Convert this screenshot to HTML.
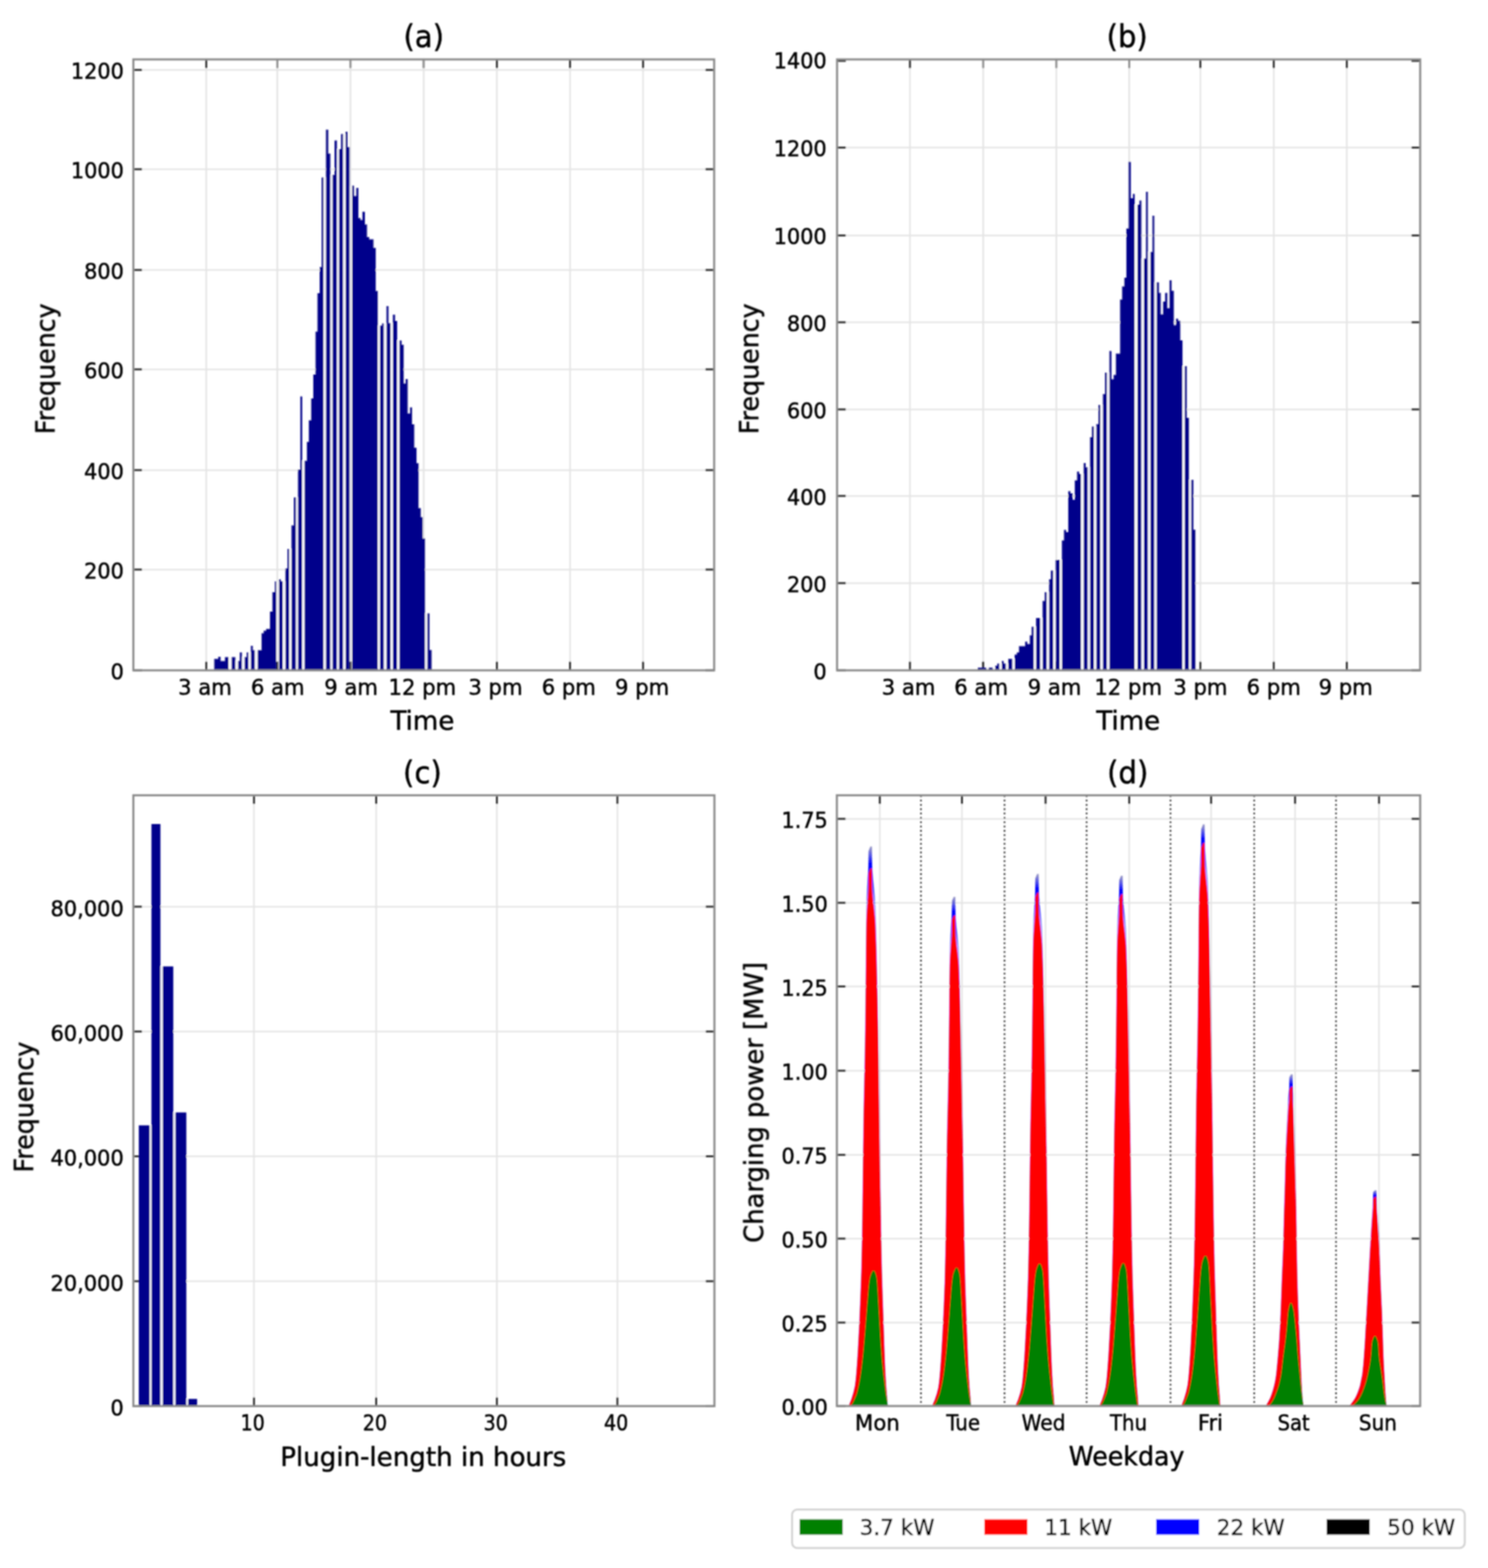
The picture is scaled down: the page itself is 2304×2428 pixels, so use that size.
<!DOCTYPE html>
<html lang="en">
<head>
<meta charset="utf-8">
<title>Charging statistics</title>
<style>
html,body{margin:0;padding:0;background:#ffffff;}
body{width:2304px;height:2428px;overflow:hidden;}
svg{display:block;font-family:"DejaVu Sans", "Liberation Sans", sans-serif;}
svg text{fill:#000000;stroke:#000000;stroke-width:0.7px;stroke-linejoin:round;}
</style>
</head>
<body>
<svg width="2304" height="2428" viewBox="0 0 2304 2428">
<defs><filter id="soft" x="0" y="0" width="2304" height="2428" filterUnits="userSpaceOnUse"><feGaussianBlur stdDeviation="1.2"/></filter></defs>
<rect x="0" y="0" width="2304" height="2428" fill="#ffffff"/>
<g filter="url(#soft)">
<g>
<rect x="318.1" y="92.0" width="2.5" height="946.0" fill="#e5e5e5"/>
<rect x="428.1" y="92.0" width="2.5" height="946.0" fill="#e5e5e5"/>
<rect x="541.5" y="92.0" width="2.5" height="946.0" fill="#e5e5e5"/>
<rect x="654.8" y="92.0" width="2.5" height="946.0" fill="#e5e5e5"/>
<rect x="768.1" y="92.0" width="2.5" height="946.0" fill="#e5e5e5"/>
<rect x="881.5" y="92.0" width="2.5" height="946.0" fill="#e5e5e5"/>
<rect x="994.5" y="92.0" width="2.5" height="946.0" fill="#e5e5e5"/>
<rect x="206.5" y="880.8" width="899.3" height="2.5" fill="#e5e5e5"/>
<rect x="206.5" y="726.8" width="899.3" height="2.5" fill="#e5e5e5"/>
<rect x="206.5" y="570.8" width="899.3" height="2.5" fill="#e5e5e5"/>
<rect x="206.5" y="416.8" width="899.3" height="2.5" fill="#e5e5e5"/>
<rect x="206.5" y="260.8" width="899.3" height="2.5" fill="#e5e5e5"/>
<rect x="206.5" y="107.0" width="899.3" height="2.5" fill="#e5e5e5"/>
<rect x="317.9" y="1024.5" width="2.9" height="13.5" fill="#262626"/>
<rect x="317.9" y="92.0" width="2.9" height="13.5" fill="#262626"/>
<rect x="427.9" y="1024.5" width="2.9" height="13.5" fill="#262626"/>
<rect x="427.9" y="92.0" width="2.9" height="13.5" fill="#262626"/>
<rect x="541.3" y="1024.5" width="2.9" height="13.5" fill="#262626"/>
<rect x="541.3" y="92.0" width="2.9" height="13.5" fill="#262626"/>
<rect x="654.5" y="1024.5" width="2.9" height="13.5" fill="#262626"/>
<rect x="654.5" y="92.0" width="2.9" height="13.5" fill="#262626"/>
<rect x="767.9" y="1024.5" width="2.9" height="13.5" fill="#262626"/>
<rect x="767.9" y="92.0" width="2.9" height="13.5" fill="#262626"/>
<rect x="881.2" y="1024.5" width="2.9" height="13.5" fill="#262626"/>
<rect x="881.2" y="92.0" width="2.9" height="13.5" fill="#262626"/>
<rect x="994.3" y="1024.5" width="2.9" height="13.5" fill="#262626"/>
<rect x="994.3" y="92.0" width="2.9" height="13.5" fill="#262626"/>
<rect x="206.5" y="1036.5" width="13.5" height="2.9" fill="#262626"/>
<rect x="1092.3" y="1036.5" width="13.5" height="2.9" fill="#262626"/>
<rect x="206.5" y="880.5" width="13.5" height="2.9" fill="#262626"/>
<rect x="1092.3" y="880.5" width="13.5" height="2.9" fill="#262626"/>
<rect x="206.5" y="726.5" width="13.5" height="2.9" fill="#262626"/>
<rect x="1092.3" y="726.5" width="13.5" height="2.9" fill="#262626"/>
<rect x="206.5" y="570.5" width="13.5" height="2.9" fill="#262626"/>
<rect x="1092.3" y="570.5" width="13.5" height="2.9" fill="#262626"/>
<rect x="206.5" y="416.6" width="13.5" height="2.9" fill="#262626"/>
<rect x="1092.3" y="416.6" width="13.5" height="2.9" fill="#262626"/>
<rect x="206.5" y="260.6" width="13.5" height="2.9" fill="#262626"/>
<rect x="1092.3" y="260.6" width="13.5" height="2.9" fill="#262626"/>
<rect x="206.5" y="106.8" width="13.5" height="2.9" fill="#262626"/>
<rect x="1092.3" y="106.8" width="13.5" height="2.9" fill="#262626"/>
<path d="M331.5 1038.0 L331.5 1020.3 L337.8 1020.3 L337.8 1016.9 L341.6 1016.9 L341.6 1023.6 L348.3 1023.6 L348.3 1017.4 L354.1 1017.4 L354.1 1017.4 L358.4 1017.4 L358.4 1017.4 L364.6 1017.4 L364.6 1023.6 L368.5 1023.6 L368.5 1023.6 L371.3 1023.6 L371.3 1010.2 L374.7 1010.2 L374.7 1017.4 L378.5 1017.4 L378.5 1017.4 L381.9 1017.4 L381.9 1010.2 L384.8 1010.2 L384.8 1010.2 L388.3 1010.2 L388.3 1000.1 L391.5 1000.1 L391.5 1006.8 L394.7 1006.8 L394.7 1006.8 L398.7 1006.8 L398.7 1006.8 L404.9 1006.8 L404.9 980.4 L408.3 980.4 L408.3 976.6 L412.1 976.6 L412.1 973.7 L417.9 973.7 L417.9 946.9 L421.7 946.9 L421.7 917.1 L425.6 917.1 L425.6 900.3 L428.0 900.3 L428.0 900.3 L431.8 900.3 L431.8 896.9 L434.7 896.9 L434.7 900.3 L438.0 900.3 L438.0 900.3 L441.7 900.3 L441.7 880.2 L445.2 880.2 L445.2 849.9 L448.0 849.9 L448.0 849.9 L451.2 849.9 L451.2 813.4 L455.0 813.4 L455.0 770.2 L458.4 770.2 L458.4 770.2 L461.3 770.2 L461.3 727.0 L465.1 727.0 L465.1 613.7 L468.0 613.7 L468.0 713.6 L471.3 713.6 L471.3 713.6 L475.2 713.6 L475.2 684.3 L478.2 684.3 L478.2 650.7 L481.7 650.7 L481.7 617.1 L485.1 617.1 L485.1 580.1 L488.5 580.1 L488.5 513.4 L491.5 513.4 L491.5 453.9 L495.0 453.9 L495.0 413.6 L498.1 413.6 L498.1 274.7 L501.2 274.7 L501.2 274.7 L504.5 274.7 L504.5 200.8 L508.4 200.8 L508.4 237.7 L511.7 237.7 L511.7 270.8 L514.6 270.8 L514.6 270.8 L518.0 270.8 L518.0 217.6 L521.8 217.6 L521.8 231.0 L524.7 231.0 L524.7 231.0 L528.1 231.0 L528.1 207.5 L531.4 207.5 L531.4 207.5 L534.8 207.5 L534.8 204.1 L538.1 204.1 L538.1 227.7 L541.5 227.7 L541.5 287.6 L544.9 287.6 L544.9 287.6 L548.2 287.6 L548.2 303.5 L551.6 303.5 L551.6 291.0 L554.9 291.0 L554.9 337.4 L558.3 337.4 L558.3 340.6 L561.2 340.6 L561.2 327.8 L565.0 327.8 L565.0 347.4 L568.4 347.4 L568.4 367.0 L571.7 367.0 L571.7 370.4 L578.4 370.4 L578.4 383.8 L581.8 383.8 L581.8 450.5 L585.2 450.5 L585.2 504.2 L588.2 504.2 L588.2 504.2 L591.6 504.2 L591.6 500.8 L594.5 500.8 L594.5 500.8 L598.3 500.8 L598.3 474.0 L601.6 474.0 L601.6 500.5 L605.0 500.5 L605.0 500.5 L608.2 500.5 L608.2 487.3 L611.7 487.3 L611.7 497.0 L615.0 497.0 L615.0 527.2 L618.3 527.2 L618.3 527.2 L621.8 527.2 L621.8 533.7 L625.2 533.7 L625.2 593.7 L628.1 593.7 L628.1 587.0 L631.4 587.0 L631.4 640.3 L634.8 640.3 L634.8 630.7 L638.1 630.7 L638.1 656.9 L641.5 656.9 L641.5 693.2 L644.9 693.2 L644.9 717.2 L648.2 717.2 L648.2 786.8 L651.6 786.8 L651.6 800.7 L654.6 800.7 L654.6 833.7 L658.3 833.7 L658.3 949.7 L661.5 949.7 L661.5 949.7 L665.1 949.7 L665.1 1006.6 L668.5 1006.6 L668.5 1038.0Z" fill="#ffffff"/>
<rect x="428.1" y="92.0" width="2.5" height="946.0" fill="#e5e5e5" fill-opacity="0.6"/>
<rect x="427.9" y="1024.5" width="2.9" height="13.5" fill="#262626"/>
<rect x="541.5" y="92.0" width="2.5" height="946.0" fill="#e5e5e5" fill-opacity="0.6"/>
<rect x="541.3" y="1024.5" width="2.9" height="13.5" fill="#262626"/>
<rect x="654.8" y="92.0" width="2.5" height="946.0" fill="#e5e5e5" fill-opacity="0.6"/>
<rect x="654.5" y="1024.5" width="2.9" height="13.5" fill="#262626"/>
<path d="M331.6 1038.0 L331.6 1020.3 L337.8 1020.3 L337.8 1016.9 L341.6 1016.9 L341.6 1023.6 L348.3 1023.6 L348.3 1017.4 L354.0 1017.4 L354.0 1038.0Z M358.5 1038.0 L358.5 1017.4 L364.5 1017.4 L364.5 1038.0Z M368.6 1038.0 L368.6 1023.6 L371.3 1023.6 L371.3 1010.2 L374.6 1010.2 L374.6 1038.0Z M378.6 1038.0 L378.6 1017.4 L381.9 1017.4 L381.9 1010.2 L384.7 1010.2 L384.7 1038.0Z M388.4 1038.0 L388.4 1000.1 L391.5 1000.1 L391.5 1006.8 L394.6 1006.8 L394.6 1038.0Z M398.8 1038.0 L398.8 1006.8 L404.9 1006.8 L404.9 980.4 L408.3 980.4 L408.3 976.6 L412.1 976.6 L412.1 973.7 L417.9 973.7 L417.9 946.9 L421.7 946.9 L421.7 917.1 L425.6 917.1 L425.6 900.3 L427.9 900.3 L427.9 1038.0Z M431.9 1038.0 L431.9 896.9 L434.7 896.9 L434.7 900.3 L437.9 900.3 L437.9 1038.0Z M441.8 1038.0 L441.8 880.2 L445.2 880.2 L445.2 849.9 L447.9 849.9 L447.9 1038.0Z M451.3 1038.0 L451.3 813.4 L455.0 813.4 L455.0 770.2 L458.3 770.2 L458.3 1038.0Z M461.4 1038.0 L461.4 727.0 L465.1 727.0 L465.1 613.7 L467.9 613.7 L467.9 1038.0Z M471.4 1038.0 L471.4 713.6 L475.2 713.6 L475.2 684.3 L478.2 684.3 L478.2 650.7 L481.7 650.7 L481.7 617.1 L485.1 617.1 L485.1 580.1 L488.5 580.1 L488.5 513.4 L491.5 513.4 L491.5 453.9 L495.0 453.9 L495.0 413.6 L498.1 413.6 L498.1 274.7 L501.1 274.7 L501.1 1038.0Z M504.6 1038.0 L504.6 200.8 L508.4 200.8 L508.4 237.7 L511.6 237.7 L511.6 1038.0Z M514.7 1038.0 L514.7 270.8 L518.0 270.8 L518.0 217.6 L521.7 217.6 L521.7 1038.0Z M524.8 1038.0 L524.8 231.0 L528.1 231.0 L528.1 207.5 L531.3 207.5 L531.3 1038.0Z M534.9 1038.0 L534.9 204.1 L538.1 204.1 L538.1 227.7 L541.4 227.7 L541.4 1038.0Z M545.0 1038.0 L545.0 287.6 L548.2 287.6 L548.2 303.5 L551.6 303.5 L551.6 291.0 L554.9 291.0 L554.9 337.4 L558.3 337.4 L558.3 340.6 L561.2 340.6 L561.2 327.8 L565.0 327.8 L565.0 347.4 L568.4 347.4 L568.4 367.0 L571.7 367.0 L571.7 370.4 L578.4 370.4 L578.4 383.8 L581.8 383.8 L581.8 450.5 L585.1 450.5 L585.1 1038.0Z M588.3 1038.0 L588.3 504.2 L591.6 504.2 L591.6 500.8 L594.4 500.8 L594.4 1038.0Z M598.4 1038.0 L598.4 474.0 L601.6 474.0 L601.6 500.5 L604.9 500.5 L604.9 1038.0Z M608.3 1038.0 L608.3 487.3 L611.7 487.3 L611.7 497.0 L614.9 497.0 L614.9 1038.0Z M618.4 1038.0 L618.4 527.2 L621.8 527.2 L621.8 533.7 L625.2 533.7 L625.2 593.7 L628.1 593.7 L628.1 587.0 L631.4 587.0 L631.4 640.3 L634.8 640.3 L634.8 630.7 L638.1 630.7 L638.1 656.9 L641.5 656.9 L641.5 693.2 L644.9 693.2 L644.9 717.2 L648.2 717.2 L648.2 786.8 L651.6 786.8 L651.6 800.7 L654.6 800.7 L654.6 833.7 L658.2 833.7 L658.2 1038.0Z M661.6 1038.0 L661.6 949.7 L665.1 949.7 L665.1 1006.6 L668.4 1006.6 L668.4 1038.0Z" fill="#00008b"/>
<rect x="206.5" y="92.0" width="899.3" height="946.0" fill="none" stroke="#8a8a8a" stroke-width="3.2"/>
<text transform="translate(191.8 1051.6) scale(0.935 1)" font-size="34.5" text-anchor="end">0</text>
<text transform="translate(191.8 895.6) scale(0.935 1)" font-size="34.5" text-anchor="end">200</text>
<text transform="translate(191.8 741.6) scale(0.935 1)" font-size="34.5" text-anchor="end">400</text>
<text transform="translate(191.8 585.6) scale(0.935 1)" font-size="34.5" text-anchor="end">600</text>
<text transform="translate(191.8 431.6) scale(0.935 1)" font-size="34.5" text-anchor="end">800</text>
<text transform="translate(191.8 275.6) scale(0.935 1)" font-size="34.5" text-anchor="end">1000</text>
<text transform="translate(191.8 121.9) scale(0.935 1)" font-size="34.5" text-anchor="end">1200</text>
<text transform="translate(317.4 1075.5) scale(0.95 1)" font-size="34.5" text-anchor="middle">3 am</text>
<text transform="translate(430.1 1075.5) scale(0.95 1)" font-size="34.5" text-anchor="middle">6 am</text>
<text transform="translate(543.6 1075.5) scale(0.95 1)" font-size="34.5" text-anchor="middle">9 am</text>
<text transform="translate(654.0 1075.5) scale(0.95 1)" font-size="34.5" text-anchor="middle">12 pm</text>
<text transform="translate(767.1 1075.5) scale(0.95 1)" font-size="34.5" text-anchor="middle">3 pm</text>
<text transform="translate(880.7 1075.5) scale(0.95 1)" font-size="34.5" text-anchor="middle">6 pm</text>
<text transform="translate(994.3 1075.5) scale(0.95 1)" font-size="34.5" text-anchor="middle">9 pm</text>
<text transform="translate(656.1 73.0) scale(0.95 1)" font-size="47.5" text-anchor="middle">(a)</text>
<text transform="translate(654.1 1130.2) scale(0.985 1)" font-size="41" text-anchor="middle">Time</text>
<text transform="translate(84.6 571.0) rotate(-90) scale(0.956 1)" font-size="41" text-anchor="middle">Frequency</text>
</g>
<g>
<rect x="1407.7" y="92.0" width="2.5" height="946.0" fill="#e5e5e5"/>
<rect x="1521.0" y="92.0" width="2.5" height="946.0" fill="#e5e5e5"/>
<rect x="1634.5" y="92.0" width="2.5" height="946.0" fill="#e5e5e5"/>
<rect x="1747.2" y="92.0" width="2.5" height="946.0" fill="#e5e5e5"/>
<rect x="1857.5" y="92.0" width="2.5" height="946.0" fill="#e5e5e5"/>
<rect x="1971.0" y="92.0" width="2.5" height="946.0" fill="#e5e5e5"/>
<rect x="2084.1" y="92.0" width="2.5" height="946.0" fill="#e5e5e5"/>
<rect x="1296.1" y="901.8" width="902.9" height="2.5" fill="#e5e5e5"/>
<rect x="1296.1" y="766.8" width="902.9" height="2.5" fill="#e5e5e5"/>
<rect x="1296.1" y="632.8" width="902.9" height="2.5" fill="#e5e5e5"/>
<rect x="1296.1" y="497.8" width="902.9" height="2.5" fill="#e5e5e5"/>
<rect x="1296.1" y="363.4" width="902.9" height="2.5" fill="#e5e5e5"/>
<rect x="1296.1" y="227.2" width="902.9" height="2.5" fill="#e5e5e5"/>
<rect x="1407.5" y="1024.5" width="2.9" height="13.5" fill="#262626"/>
<rect x="1407.5" y="92.0" width="2.9" height="13.5" fill="#262626"/>
<rect x="1520.8" y="1024.5" width="2.9" height="13.5" fill="#262626"/>
<rect x="1520.8" y="92.0" width="2.9" height="13.5" fill="#262626"/>
<rect x="1634.3" y="1024.5" width="2.9" height="13.5" fill="#262626"/>
<rect x="1634.3" y="92.0" width="2.9" height="13.5" fill="#262626"/>
<rect x="1747.0" y="1024.5" width="2.9" height="13.5" fill="#262626"/>
<rect x="1747.0" y="92.0" width="2.9" height="13.5" fill="#262626"/>
<rect x="1857.2" y="1024.5" width="2.9" height="13.5" fill="#262626"/>
<rect x="1857.2" y="92.0" width="2.9" height="13.5" fill="#262626"/>
<rect x="1970.8" y="1024.5" width="2.9" height="13.5" fill="#262626"/>
<rect x="1970.8" y="92.0" width="2.9" height="13.5" fill="#262626"/>
<rect x="2083.9" y="1024.5" width="2.9" height="13.5" fill="#262626"/>
<rect x="2083.9" y="92.0" width="2.9" height="13.5" fill="#262626"/>
<rect x="1296.1" y="1036.5" width="13.5" height="2.9" fill="#262626"/>
<rect x="2185.5" y="1036.5" width="13.5" height="2.9" fill="#262626"/>
<rect x="1296.1" y="901.5" width="13.5" height="2.9" fill="#262626"/>
<rect x="2185.5" y="901.5" width="13.5" height="2.9" fill="#262626"/>
<rect x="1296.1" y="766.5" width="13.5" height="2.9" fill="#262626"/>
<rect x="2185.5" y="766.5" width="13.5" height="2.9" fill="#262626"/>
<rect x="1296.1" y="632.5" width="13.5" height="2.9" fill="#262626"/>
<rect x="2185.5" y="632.5" width="13.5" height="2.9" fill="#262626"/>
<rect x="1296.1" y="497.6" width="13.5" height="2.9" fill="#262626"/>
<rect x="2185.5" y="497.6" width="13.5" height="2.9" fill="#262626"/>
<rect x="1296.1" y="363.2" width="13.5" height="2.9" fill="#262626"/>
<rect x="2185.5" y="363.2" width="13.5" height="2.9" fill="#262626"/>
<rect x="1296.1" y="227.1" width="13.5" height="2.9" fill="#262626"/>
<rect x="2185.5" y="227.1" width="13.5" height="2.9" fill="#262626"/>
<rect x="1296.1" y="92.8" width="13.5" height="2.9" fill="#262626"/>
<rect x="2185.5" y="92.8" width="13.5" height="2.9" fill="#262626"/>
<path d="M1513.9 1038.0 L1513.9 1033.7 L1527.4 1033.7 L1527.4 1033.7 L1530.7 1033.7 L1530.7 1033.7 L1537.4 1033.7 L1537.4 1033.7 L1540.8 1033.7 L1540.8 1030.8 L1544.1 1030.8 L1544.1 1027.5 L1547.5 1027.5 L1547.5 1027.5 L1550.9 1027.5 L1550.9 1023.6 L1554.2 1023.6 L1554.2 1027.5 L1557.6 1027.5 L1557.6 1027.5 L1560.9 1027.5 L1560.9 1020.3 L1567.7 1020.3 L1567.7 1020.3 L1571.0 1020.3 L1571.0 1013.6 L1574.4 1013.6 L1574.4 1010.2 L1577.7 1010.2 L1577.7 1000.6 L1587.3 1000.6 L1587.3 993.4 L1590.7 993.4 L1590.7 997.2 L1594.5 997.2 L1594.5 983.8 L1597.4 983.8 L1597.4 970.4 L1600.8 970.4 L1600.8 970.4 L1604.1 970.4 L1604.1 956.9 L1610.8 956.9 L1610.8 956.9 L1614.2 956.9 L1614.2 930.5 L1617.6 930.5 L1617.6 917.1 L1620.9 917.1 L1620.9 917.1 L1624.3 917.1 L1624.3 896.9 L1627.2 896.9 L1627.2 883.5 L1631.0 883.5 L1631.0 883.5 L1634.4 883.5 L1634.4 866.9 L1641.1 866.9 L1641.1 866.9 L1644.1 866.9 L1644.1 836.8 L1647.4 836.8 L1647.4 820.5 L1650.8 820.5 L1650.8 823.9 L1654.1 823.9 L1654.1 760.5 L1657.5 760.5 L1657.5 763.9 L1660.9 763.9 L1660.9 774.0 L1664.2 774.0 L1664.2 743.7 L1667.6 743.7 L1667.6 730.3 L1670.9 730.3 L1670.9 734.1 L1674.1 734.1 L1674.1 734.1 L1677.7 734.1 L1677.7 716.9 L1681.0 716.9 L1681.0 723.6 L1684.4 723.6 L1684.4 723.6 L1687.6 723.6 L1687.6 676.9 L1690.7 676.9 L1690.7 660.6 L1694.1 660.6 L1694.1 660.6 L1697.4 660.6 L1697.4 656.8 L1700.8 656.8 L1700.8 627.0 L1704.1 627.0 L1704.1 627.0 L1707.5 627.0 L1707.5 610.2 L1710.9 610.2 L1710.9 577.1 L1714.2 577.1 L1714.2 577.1 L1717.6 577.1 L1717.6 543.5 L1720.9 543.5 L1720.9 587.2 L1724.3 587.2 L1724.3 580.5 L1727.7 580.5 L1727.7 547.4 L1734.3 547.4 L1734.3 463.7 L1737.4 463.7 L1737.4 443.6 L1740.8 443.6 L1740.8 430.1 L1744.1 430.1 L1744.1 353.7 L1747.5 353.7 L1747.5 250.4 L1750.9 250.4 L1750.9 307.0 L1754.2 307.0 L1754.2 300.3 L1757.0 300.3 L1757.0 317.1 L1760.9 317.1 L1760.9 317.1 L1764.3 317.1 L1764.3 310.4 L1767.5 310.4 L1767.5 400.4 L1771.0 400.4 L1771.0 400.4 L1774.4 400.4 L1774.4 296.9 L1777.5 296.9 L1777.5 390.3 L1781.1 390.3 L1781.1 390.3 L1784.4 390.3 L1784.4 333.9 L1787.5 333.9 L1787.5 437.3 L1790.7 437.3 L1790.7 437.3 L1794.5 437.3 L1794.5 453.6 L1797.4 453.6 L1797.4 486.8 L1800.8 486.8 L1800.8 467.1 L1804.1 467.1 L1804.1 453.6 L1807.5 453.6 L1807.5 477.2 L1810.8 477.2 L1810.8 434.0 L1814.2 434.0 L1814.2 450.3 L1817.6 450.3 L1817.6 503.6 L1820.9 503.6 L1820.9 493.5 L1824.3 493.5 L1824.3 496.8 L1827.6 496.8 L1827.6 527.1 L1831.0 527.1 L1831.0 567.0 L1834.2 567.0 L1834.2 567.0 L1837.6 567.0 L1837.6 647.0 L1841.2 647.0 L1841.2 742.9 L1844.3 742.9 L1844.3 742.9 L1847.8 742.9 L1847.8 820.2 L1851.2 820.2 L1851.2 1038.0Z" fill="#ffffff"/>
<rect x="1521.0" y="92.0" width="2.5" height="946.0" fill="#e5e5e5" fill-opacity="0.6"/>
<rect x="1520.8" y="1024.5" width="2.9" height="13.5" fill="#262626"/>
<rect x="1634.5" y="92.0" width="2.5" height="946.0" fill="#e5e5e5" fill-opacity="0.6"/>
<rect x="1634.3" y="1024.5" width="2.9" height="13.5" fill="#262626"/>
<rect x="1747.2" y="92.0" width="2.5" height="946.0" fill="#e5e5e5" fill-opacity="0.6"/>
<rect x="1747.0" y="1024.5" width="2.9" height="13.5" fill="#262626"/>
<path d="M1514.0 1038.0 L1514.0 1033.7 L1527.3 1033.7 L1527.3 1038.0Z M1530.8 1038.0 L1530.8 1033.7 L1537.3 1033.7 L1537.3 1038.0Z M1540.9 1038.0 L1540.9 1030.8 L1544.1 1030.8 L1544.1 1027.5 L1547.4 1027.5 L1547.4 1038.0Z M1551.0 1038.0 L1551.0 1023.6 L1554.2 1023.6 L1554.2 1027.5 L1557.5 1027.5 L1557.5 1038.0Z M1561.0 1038.0 L1561.0 1020.3 L1567.6 1020.3 L1567.6 1038.0Z M1571.1 1038.0 L1571.1 1013.6 L1574.4 1013.6 L1574.4 1010.2 L1577.7 1010.2 L1577.7 1000.6 L1587.3 1000.6 L1587.3 993.4 L1590.7 993.4 L1590.7 997.2 L1594.5 997.2 L1594.5 983.8 L1597.4 983.8 L1597.4 970.4 L1600.7 970.4 L1600.7 1038.0Z M1604.2 1038.0 L1604.2 956.9 L1610.7 956.9 L1610.7 1038.0Z M1614.3 1038.0 L1614.3 930.5 L1617.6 930.5 L1617.6 917.1 L1620.8 917.1 L1620.8 1038.0Z M1624.4 1038.0 L1624.4 896.9 L1627.2 896.9 L1627.2 883.5 L1630.9 883.5 L1630.9 1038.0Z M1634.5 1038.0 L1634.5 866.9 L1641.0 866.9 L1641.0 1038.0Z M1644.2 1038.0 L1644.2 836.8 L1647.4 836.8 L1647.4 820.5 L1650.8 820.5 L1650.8 823.9 L1654.1 823.9 L1654.1 760.5 L1657.5 760.5 L1657.5 763.9 L1660.9 763.9 L1660.9 774.0 L1664.2 774.0 L1664.2 743.7 L1667.6 743.7 L1667.6 730.3 L1670.9 730.3 L1670.9 734.1 L1674.0 734.1 L1674.0 1038.0Z M1677.8 1038.0 L1677.8 716.9 L1681.0 716.9 L1681.0 723.6 L1684.3 723.6 L1684.3 1038.0Z M1687.7 1038.0 L1687.7 676.9 L1690.7 676.9 L1690.7 660.6 L1694.0 660.6 L1694.0 1038.0Z M1697.5 1038.0 L1697.5 656.8 L1700.8 656.8 L1700.8 627.0 L1704.0 627.0 L1704.0 1038.0Z M1707.6 1038.0 L1707.6 610.2 L1710.9 610.2 L1710.9 577.1 L1714.1 577.1 L1714.1 1038.0Z M1717.7 1038.0 L1717.7 543.5 L1720.9 543.5 L1720.9 587.2 L1724.3 587.2 L1724.3 580.5 L1727.7 580.5 L1727.7 547.4 L1734.3 547.4 L1734.3 463.7 L1737.4 463.7 L1737.4 443.6 L1740.8 443.6 L1740.8 430.1 L1744.1 430.1 L1744.1 353.7 L1747.5 353.7 L1747.5 250.4 L1750.9 250.4 L1750.9 307.0 L1754.2 307.0 L1754.2 300.3 L1756.9 300.3 L1756.9 1038.0Z M1761.0 1038.0 L1761.0 317.1 L1764.3 317.1 L1764.3 310.4 L1767.4 310.4 L1767.4 1038.0Z M1771.1 1038.0 L1771.1 400.4 L1774.4 400.4 L1774.4 296.9 L1777.4 296.9 L1777.4 1038.0Z M1781.2 1038.0 L1781.2 390.3 L1784.4 390.3 L1784.4 333.9 L1787.4 333.9 L1787.4 1038.0Z M1790.8 1038.0 L1790.8 437.3 L1794.5 437.3 L1794.5 453.6 L1797.4 453.6 L1797.4 486.8 L1800.8 486.8 L1800.8 467.1 L1804.1 467.1 L1804.1 453.6 L1807.5 453.6 L1807.5 477.2 L1810.8 477.2 L1810.8 434.0 L1814.2 434.0 L1814.2 450.3 L1817.6 450.3 L1817.6 503.6 L1820.9 503.6 L1820.9 493.5 L1824.3 493.5 L1824.3 496.8 L1827.6 496.8 L1827.6 527.1 L1830.9 527.1 L1830.9 1038.0Z M1834.3 1038.0 L1834.3 567.0 L1837.6 567.0 L1837.6 647.0 L1841.1 647.0 L1841.1 1038.0Z M1844.4 1038.0 L1844.4 742.9 L1847.8 742.9 L1847.8 820.2 L1851.1 820.2 L1851.1 1038.0Z" fill="#00008b"/>
<rect x="1296.1" y="92.0" width="902.9" height="946.0" fill="none" stroke="#8a8a8a" stroke-width="3.2"/>
<text transform="translate(1280.1 1051.6) scale(0.935 1)" font-size="34.5" text-anchor="end">0</text>
<text transform="translate(1280.1 916.6) scale(0.935 1)" font-size="34.5" text-anchor="end">200</text>
<text transform="translate(1280.1 781.6) scale(0.935 1)" font-size="34.5" text-anchor="end">400</text>
<text transform="translate(1280.1 647.6) scale(0.935 1)" font-size="34.5" text-anchor="end">600</text>
<text transform="translate(1280.1 512.6) scale(0.935 1)" font-size="34.5" text-anchor="end">800</text>
<text transform="translate(1280.1 378.3) scale(0.935 1)" font-size="34.5" text-anchor="end">1000</text>
<text transform="translate(1280.1 242.1) scale(0.935 1)" font-size="34.5" text-anchor="end">1200</text>
<text transform="translate(1280.1 106.1) scale(0.935 1)" font-size="34.5" text-anchor="end">1400</text>
<text transform="translate(1406.9 1075.5) scale(0.95 1)" font-size="34.5" text-anchor="middle">3 am</text>
<text transform="translate(1519.2 1075.5) scale(0.95 1)" font-size="34.5" text-anchor="middle">6 am</text>
<text transform="translate(1632.8 1075.5) scale(0.95 1)" font-size="34.5" text-anchor="middle">9 am</text>
<text transform="translate(1746.9 1075.5) scale(0.95 1)" font-size="34.5" text-anchor="middle">12 pm</text>
<text transform="translate(1858.7 1075.5) scale(0.95 1)" font-size="34.5" text-anchor="middle">3 pm</text>
<text transform="translate(1972.2 1075.5) scale(0.95 1)" font-size="34.5" text-anchor="middle">6 pm</text>
<text transform="translate(2083.8 1075.5) scale(0.95 1)" font-size="34.5" text-anchor="middle">9 pm</text>
<text transform="translate(1745.3 73.0) scale(0.95 1)" font-size="47.5" text-anchor="middle">(b)</text>
<text transform="translate(1747.0 1130.2) scale(0.985 1)" font-size="41" text-anchor="middle">Time</text>
<text transform="translate(1174.2 571.0) rotate(-90) scale(0.956 1)" font-size="41" text-anchor="middle">Frequency</text>
</g>
<g>
<rect x="391.9" y="1231.5" width="2.5" height="945.8" fill="#e5e5e5"/>
<rect x="581.2" y="1231.5" width="2.5" height="945.8" fill="#e5e5e5"/>
<rect x="768.1" y="1231.5" width="2.5" height="945.8" fill="#e5e5e5"/>
<rect x="954.8" y="1231.5" width="2.5" height="945.8" fill="#e5e5e5"/>
<rect x="206.5" y="1982.7" width="899.7" height="2.5" fill="#e5e5e5"/>
<rect x="206.5" y="1789.3" width="899.7" height="2.5" fill="#e5e5e5"/>
<rect x="206.5" y="1596.0" width="899.7" height="2.5" fill="#e5e5e5"/>
<rect x="206.5" y="1402.8" width="899.7" height="2.5" fill="#e5e5e5"/>
<rect x="391.8" y="2163.8" width="2.9" height="13.5" fill="#262626"/>
<rect x="391.8" y="1231.5" width="2.9" height="13.5" fill="#262626"/>
<rect x="581.0" y="2163.8" width="2.9" height="13.5" fill="#262626"/>
<rect x="581.0" y="1231.5" width="2.9" height="13.5" fill="#262626"/>
<rect x="767.9" y="2163.8" width="2.9" height="13.5" fill="#262626"/>
<rect x="767.9" y="1231.5" width="2.9" height="13.5" fill="#262626"/>
<rect x="954.5" y="2163.8" width="2.9" height="13.5" fill="#262626"/>
<rect x="954.5" y="1231.5" width="2.9" height="13.5" fill="#262626"/>
<rect x="206.5" y="2175.9" width="13.5" height="2.9" fill="#262626"/>
<rect x="1092.7" y="2175.9" width="13.5" height="2.9" fill="#262626"/>
<rect x="206.5" y="1982.5" width="13.5" height="2.9" fill="#262626"/>
<rect x="1092.7" y="1982.5" width="13.5" height="2.9" fill="#262626"/>
<rect x="206.5" y="1789.1" width="13.5" height="2.9" fill="#262626"/>
<rect x="1092.7" y="1789.1" width="13.5" height="2.9" fill="#262626"/>
<rect x="206.5" y="1595.8" width="13.5" height="2.9" fill="#262626"/>
<rect x="1092.7" y="1595.8" width="13.5" height="2.9" fill="#262626"/>
<rect x="206.5" y="1402.5" width="13.5" height="2.9" fill="#262626"/>
<rect x="1092.7" y="1402.5" width="13.5" height="2.9" fill="#262626"/>
<rect x="230.8" y="1742.6" width="4.7" height="434.7" fill="#ffffff"/>
<rect x="247.4" y="1496.5" width="5.4" height="680.8" fill="#ffffff"/>
<rect x="267.3" y="1722.6" width="5.2" height="454.7" fill="#ffffff"/>
<rect x="287.5" y="2166.2" width="4.8" height="11.1" fill="#ffffff"/>
<rect x="214.9" y="1742.6" width="16.9" height="434.7" fill="#00008b"/>
<rect x="234.5" y="1276.0" width="13.9" height="901.3" fill="#00008b"/>
<rect x="251.8" y="1496.5" width="16.5" height="680.8" fill="#00008b"/>
<rect x="271.5" y="1722.6" width="17.0" height="454.7" fill="#00008b"/>
<rect x="291.3" y="2166.2" width="13.9" height="11.1" fill="#00008b"/>
<rect x="206.5" y="1231.5" width="899.7" height="945.8" fill="none" stroke="#8a8a8a" stroke-width="3.2"/>
<text transform="translate(191.6 2192.1) scale(0.935 1)" font-size="34.5" text-anchor="end">0</text>
<text transform="translate(191.6 1998.7) scale(0.94 1)" font-size="34.5" text-anchor="end">20,000</text>
<text transform="translate(191.6 1805.4) scale(0.94 1)" font-size="34.5" text-anchor="end">40,000</text>
<text transform="translate(191.6 1612.1) scale(0.94 1)" font-size="34.5" text-anchor="end">60,000</text>
<text transform="translate(191.6 1418.8) scale(0.94 1)" font-size="34.5" text-anchor="end">80,000</text>
<text transform="translate(391.3 2214.8) scale(0.855 1)" font-size="34.5" text-anchor="middle">10</text>
<text transform="translate(580.6 2214.8) scale(0.855 1)" font-size="34.5" text-anchor="middle">20</text>
<text transform="translate(767.5 2214.8) scale(0.855 1)" font-size="34.5" text-anchor="middle">30</text>
<text transform="translate(954.1 2214.8) scale(0.855 1)" font-size="34.5" text-anchor="middle">40</text>
<text transform="translate(654.1 1212.5) scale(0.95 1)" font-size="47.5" text-anchor="middle">(c)</text>
<text transform="translate(655.4 2269.5) scale(0.985 1)" font-size="41" text-anchor="middle">Plugin-length in hours</text>
<text transform="translate(51.3 1714.2) rotate(-90) scale(0.956 1)" font-size="41" text-anchor="middle">Frequency</text>
</g>
<g>
<rect x="1361.0" y="1231.5" width="2.5" height="945.7" fill="#e5e5e5"/>
<rect x="1488.2" y="1231.5" width="2.5" height="945.7" fill="#e5e5e5"/>
<rect x="1617.7" y="1231.5" width="2.5" height="945.7" fill="#e5e5e5"/>
<rect x="1747.2" y="1231.5" width="2.5" height="945.7" fill="#e5e5e5"/>
<rect x="1874.0" y="1231.5" width="2.5" height="945.7" fill="#e5e5e5"/>
<rect x="2004.0" y="1231.5" width="2.5" height="945.7" fill="#e5e5e5"/>
<rect x="2133.9" y="1231.5" width="2.5" height="945.7" fill="#e5e5e5"/>
<rect x="1295.8" y="2046.8" width="903.2" height="2.5" fill="#e5e5e5"/>
<rect x="1295.8" y="1916.8" width="903.2" height="2.5" fill="#e5e5e5"/>
<rect x="1295.8" y="1787.0" width="903.2" height="2.5" fill="#e5e5e5"/>
<rect x="1295.8" y="1656.8" width="903.2" height="2.5" fill="#e5e5e5"/>
<rect x="1295.8" y="1526.2" width="903.2" height="2.5" fill="#e5e5e5"/>
<rect x="1295.8" y="1396.8" width="903.2" height="2.5" fill="#e5e5e5"/>
<rect x="1295.8" y="1266.8" width="903.2" height="2.5" fill="#e5e5e5"/>
<rect x="1360.8" y="2163.7" width="2.9" height="13.5" fill="#262626"/>
<rect x="1360.8" y="1231.5" width="2.9" height="13.5" fill="#262626"/>
<rect x="1488.0" y="2163.7" width="2.9" height="13.5" fill="#262626"/>
<rect x="1488.0" y="1231.5" width="2.9" height="13.5" fill="#262626"/>
<rect x="1617.5" y="2163.7" width="2.9" height="13.5" fill="#262626"/>
<rect x="1617.5" y="1231.5" width="2.9" height="13.5" fill="#262626"/>
<rect x="1747.0" y="2163.7" width="2.9" height="13.5" fill="#262626"/>
<rect x="1747.0" y="1231.5" width="2.9" height="13.5" fill="#262626"/>
<rect x="1873.8" y="2163.7" width="2.9" height="13.5" fill="#262626"/>
<rect x="1873.8" y="1231.5" width="2.9" height="13.5" fill="#262626"/>
<rect x="2003.8" y="2163.7" width="2.9" height="13.5" fill="#262626"/>
<rect x="2003.8" y="1231.5" width="2.9" height="13.5" fill="#262626"/>
<rect x="2133.8" y="2163.7" width="2.9" height="13.5" fill="#262626"/>
<rect x="2133.8" y="1231.5" width="2.9" height="13.5" fill="#262626"/>
<rect x="1295.8" y="2175.8" width="13.5" height="2.9" fill="#262626"/>
<rect x="2185.5" y="2175.8" width="13.5" height="2.9" fill="#262626"/>
<rect x="1295.8" y="2046.5" width="13.5" height="2.9" fill="#262626"/>
<rect x="2185.5" y="2046.5" width="13.5" height="2.9" fill="#262626"/>
<rect x="1295.8" y="1916.5" width="13.5" height="2.9" fill="#262626"/>
<rect x="2185.5" y="1916.5" width="13.5" height="2.9" fill="#262626"/>
<rect x="1295.8" y="1786.8" width="13.5" height="2.9" fill="#262626"/>
<rect x="2185.5" y="1786.8" width="13.5" height="2.9" fill="#262626"/>
<rect x="1295.8" y="1656.5" width="13.5" height="2.9" fill="#262626"/>
<rect x="2185.5" y="1656.5" width="13.5" height="2.9" fill="#262626"/>
<rect x="1295.8" y="1526.0" width="13.5" height="2.9" fill="#262626"/>
<rect x="2185.5" y="1526.0" width="13.5" height="2.9" fill="#262626"/>
<rect x="1295.8" y="1396.5" width="13.5" height="2.9" fill="#262626"/>
<rect x="2185.5" y="1396.5" width="13.5" height="2.9" fill="#262626"/>
<rect x="1295.8" y="1266.5" width="13.5" height="2.9" fill="#262626"/>
<rect x="2185.5" y="1266.5" width="13.5" height="2.9" fill="#262626"/>
<linearGradient id="tip0" gradientUnits="userSpaceOnUse" x1="0" y1="1310.8" x2="0" y2="1399.7"><stop offset="0" stop-color="#50509a" stop-opacity="0.55"/><stop offset="0.15" stop-color="#3030e0" stop-opacity="0.8"/><stop offset="0.3" stop-color="#0000ff" stop-opacity="1"/><stop offset="0.42" stop-color="#0000ff" stop-opacity="1"/><stop offset="1" stop-color="#0000ff" stop-opacity="0.4"/></linearGradient>
<polygon points="1313.9,2177.2 1318.1,2166.4 1321.3,2155.5 1323.7,2144.7 1325.0,2133.9 1325.9,2123.0 1326.7,2112.2 1327.4,2101.4 1328.1,2090.6 1330.3,2047.2 1332.1,2003.9 1333.6,1960.6 1334.5,1917.3 1335.2,1874.0 1335.7,1830.6 1336.2,1787.3 1336.7,1744.0 1337.3,1700.7 1338.2,1657.4 1339.1,1614.0 1339.7,1570.7 1340.2,1527.4 1340.6,1484.1 1340.9,1440.8 1341.5,1397.4 1341.7,1390.2 1342.1,1383.0 1342.5,1375.8 1343.0,1368.6 1343.4,1361.3 1343.9,1354.1 1344.4,1346.9 1344.6,1339.7 1344.7,1332.5 1344.7,1325.2 1344.8,1318.0 1347.5,1310.8 1350.2,1310.8 1350.2,1318.0 1350.2,1325.2 1350.3,1332.5 1350.4,1339.7 1350.6,1346.9 1351.2,1354.1 1351.8,1361.3 1352.6,1368.6 1353.4,1375.8 1354.1,1383.0 1354.8,1390.2 1355.3,1397.4 1356.9,1440.8 1357.9,1484.1 1358.9,1527.4 1359.7,1570.7 1360.5,1614.0 1361.1,1657.4 1361.7,1700.7 1362.3,1744.0 1362.8,1787.3 1363.4,1830.6 1364.0,1874.0 1364.7,1917.3 1365.6,1960.6 1366.9,2003.9 1368.3,2047.2 1369.7,2090.6 1370.1,2101.4 1370.5,2112.2 1371.0,2123.0 1371.6,2133.9 1372.2,2144.7 1373.1,2155.5 1373.9,2166.4 1374.6,2177.2" fill="url(#tip0)"/>
<polygon points="1314.2,2177.2 1318.4,2166.8 1321.6,2156.4 1324.0,2146.0 1325.3,2135.6 1326.2,2125.2 1327.0,2114.8 1327.7,2104.4 1328.4,2094.0 1330.6,2052.4 1332.4,2010.8 1333.9,1969.1 1334.8,1927.5 1335.5,1885.9 1336.0,1844.3 1336.5,1802.7 1337.0,1761.1 1337.6,1719.5 1338.5,1677.9 1339.4,1636.3 1340.0,1594.7 1340.5,1553.0 1340.9,1511.4 1341.2,1469.8 1341.8,1428.2 1342.0,1421.3 1342.4,1414.3 1342.8,1407.4 1343.3,1400.5 1343.7,1393.5 1344.2,1386.6 1344.7,1379.7 1344.9,1372.7 1345.0,1365.8 1345.0,1358.9 1345.1,1351.9 1347.8,1345.0 1349.9,1345.0 1349.9,1351.9 1349.9,1358.9 1350.0,1365.8 1350.1,1372.7 1350.3,1379.7 1350.9,1386.6 1351.5,1393.5 1352.3,1400.5 1353.1,1407.4 1353.8,1414.3 1354.5,1421.3 1355.0,1428.2 1356.6,1469.8 1357.6,1511.4 1358.6,1553.0 1359.4,1594.7 1360.2,1636.3 1360.8,1677.9 1361.4,1719.5 1362.0,1761.1 1362.5,1802.7 1363.1,1844.3 1363.7,1885.9 1364.4,1927.5 1365.3,1969.1 1366.6,2010.8 1368.0,2052.4 1369.4,2094.0 1369.8,2104.4 1370.2,2114.8 1370.7,2125.2 1371.3,2135.6 1371.9,2146.0 1372.8,2156.4 1373.6,2166.8 1374.3,2177.2" fill="#ff0000"/>
<polygon points="1317.5,2177.2 1319.0,2174.6 1320.5,2172.0 1321.8,2169.3 1323.0,2166.7 1324.1,2164.1 1325.2,2161.5 1326.2,2158.9 1327.0,2156.3 1329.5,2145.8 1331.5,2135.3 1333.1,2124.8 1334.4,2114.4 1335.6,2103.9 1336.7,2093.4 1337.6,2083.0 1338.5,2072.5 1339.4,2062.0 1340.2,2051.6 1341.1,2041.1 1341.9,2030.6 1342.7,2020.1 1343.6,2009.7 1344.4,1999.2 1345.4,1988.7 1345.7,1987.0 1345.9,1985.2 1346.1,1983.5 1346.4,1981.8 1346.7,1980.0 1347.0,1978.3 1347.5,1976.5 1348.1,1974.8 1348.7,1973.0 1349.5,1971.3 1350.3,1969.5 1351.3,1967.8 1353.7,1967.8 1354.7,1969.5 1355.5,1971.3 1356.1,1973.0 1356.6,1974.8 1357.0,1976.5 1357.4,1978.3 1357.6,1980.0 1357.8,1981.8 1358.0,1983.5 1358.1,1985.2 1358.3,1987.0 1358.4,1988.7 1359.1,1999.2 1359.7,2009.7 1360.3,2020.1 1360.9,2030.6 1361.5,2041.1 1362.1,2051.6 1362.7,2062.0 1363.3,2072.5 1364.0,2083.0 1364.8,2093.4 1365.6,2103.9 1366.6,2114.4 1367.7,2124.8 1368.9,2135.3 1370.2,2145.8 1371.5,2156.3 1371.9,2158.9 1372.3,2161.5 1372.7,2164.1 1373.1,2166.7 1373.5,2169.3 1373.9,2172.0 1374.2,2174.6 1374.6,2177.2" fill="#008000"/>
<linearGradient id="tip1" gradientUnits="userSpaceOnUse" x1="0" y1="1388.7" x2="0" y2="1464.4"><stop offset="0" stop-color="#50509a" stop-opacity="0.55"/><stop offset="0.15" stop-color="#3030e0" stop-opacity="0.8"/><stop offset="0.3" stop-color="#0000ff" stop-opacity="1"/><stop offset="0.42" stop-color="#0000ff" stop-opacity="1"/><stop offset="1" stop-color="#0000ff" stop-opacity="0.4"/></linearGradient>
<polygon points="1443.0,2177.2 1447.2,2167.3 1450.4,2157.5 1452.8,2147.6 1454.1,2137.8 1455.0,2127.9 1455.8,2118.1 1456.5,2108.2 1457.2,2098.3 1459.4,2058.9 1461.2,2019.5 1462.7,1980.1 1463.6,1940.6 1464.3,1901.2 1464.8,1861.8 1465.3,1822.4 1465.8,1782.9 1466.4,1743.5 1467.3,1704.1 1468.2,1664.7 1468.8,1625.2 1469.3,1585.8 1469.7,1546.4 1470.0,1507.0 1470.6,1467.5 1470.8,1461.0 1471.2,1454.4 1471.6,1447.8 1472.1,1441.3 1472.5,1434.7 1473.0,1428.1 1473.5,1421.6 1473.7,1415.0 1473.8,1408.4 1473.8,1401.8 1473.9,1395.3 1476.6,1388.7 1479.3,1388.7 1479.3,1395.3 1479.3,1401.8 1479.4,1408.4 1479.5,1415.0 1479.7,1421.6 1480.3,1428.1 1480.9,1434.7 1481.7,1441.3 1482.5,1447.8 1483.2,1454.4 1483.9,1461.0 1484.4,1467.5 1486.0,1507.0 1487.0,1546.4 1488.0,1585.8 1488.8,1625.2 1489.6,1664.7 1490.2,1704.1 1490.8,1743.5 1491.4,1782.9 1491.9,1822.4 1492.5,1861.8 1493.1,1901.2 1493.8,1940.6 1494.7,1980.1 1496.0,2019.5 1497.4,2058.9 1498.8,2098.3 1499.2,2108.2 1499.6,2118.1 1500.1,2127.9 1500.7,2137.8 1501.3,2147.6 1502.2,2157.5 1503.0,2167.3 1503.7,2177.2" fill="url(#tip1)"/>
<polygon points="1443.3,2177.2 1447.5,2167.7 1450.7,2158.2 1453.1,2148.7 1454.4,2139.2 1455.3,2129.7 1456.1,2120.2 1456.8,2110.8 1457.5,2101.3 1459.7,2063.3 1461.5,2025.3 1463.0,1987.3 1463.9,1949.4 1464.6,1911.4 1465.1,1873.4 1465.6,1835.5 1466.1,1797.5 1466.7,1759.5 1467.6,1721.6 1468.5,1683.6 1469.1,1645.6 1469.6,1607.6 1470.0,1569.7 1470.3,1531.7 1470.9,1493.7 1471.1,1487.4 1471.5,1481.1 1471.9,1474.8 1472.4,1468.4 1472.8,1462.1 1473.3,1455.8 1473.8,1449.4 1474.0,1443.1 1474.1,1436.8 1474.1,1430.5 1474.2,1424.1 1476.9,1417.8 1479.0,1417.8 1479.0,1424.1 1479.0,1430.5 1479.1,1436.8 1479.2,1443.1 1479.4,1449.4 1480.0,1455.8 1480.6,1462.1 1481.4,1468.4 1482.2,1474.8 1482.9,1481.1 1483.6,1487.4 1484.1,1493.7 1485.7,1531.7 1486.7,1569.7 1487.7,1607.6 1488.5,1645.6 1489.3,1683.6 1489.9,1721.6 1490.5,1759.5 1491.1,1797.5 1491.6,1835.5 1492.2,1873.4 1492.8,1911.4 1493.5,1949.4 1494.4,1987.3 1495.7,2025.3 1497.1,2063.3 1498.5,2101.3 1498.9,2110.8 1499.3,2120.2 1499.8,2129.7 1500.4,2139.2 1501.0,2148.7 1501.9,2158.2 1502.7,2167.7 1503.4,2177.2" fill="#ff0000"/>
<polygon points="1446.1,2177.2 1447.6,2174.5 1449.1,2171.9 1450.4,2169.2 1451.6,2166.5 1452.7,2163.8 1453.8,2161.2 1454.8,2158.5 1455.6,2155.8 1458.1,2145.1 1460.1,2134.4 1461.7,2123.7 1463.0,2113.0 1464.2,2102.3 1465.3,2091.6 1466.2,2080.9 1467.1,2070.2 1468.0,2059.6 1468.8,2048.9 1469.7,2038.2 1470.5,2027.5 1471.3,2016.8 1472.2,2006.1 1473.0,1995.4 1474.0,1984.7 1474.3,1982.9 1474.5,1981.1 1474.7,1979.3 1475.0,1977.6 1475.3,1975.8 1475.6,1974.0 1476.1,1972.2 1476.7,1970.4 1477.3,1968.6 1478.1,1966.9 1478.9,1965.1 1479.9,1963.3 1482.3,1963.3 1483.3,1965.1 1484.1,1966.9 1484.7,1968.6 1485.2,1970.4 1485.6,1972.2 1486.0,1974.0 1486.2,1975.8 1486.4,1977.6 1486.6,1979.3 1486.7,1981.1 1486.9,1982.9 1487.0,1984.7 1487.7,1995.4 1488.3,2006.1 1488.9,2016.8 1489.5,2027.5 1490.1,2038.2 1490.7,2048.9 1491.3,2059.6 1491.9,2070.2 1492.6,2080.9 1493.4,2091.6 1494.2,2102.3 1495.2,2113.0 1496.3,2123.7 1497.5,2134.4 1498.8,2145.1 1500.1,2155.8 1500.5,2158.5 1500.9,2161.2 1501.3,2163.8 1501.7,2166.5 1502.1,2169.2 1502.5,2171.9 1502.8,2174.5 1503.2,2177.2" fill="#008000"/>
<linearGradient id="tip2" gradientUnits="userSpaceOnUse" x1="0" y1="1353.3" x2="0" y2="1429.0"><stop offset="0" stop-color="#50509a" stop-opacity="0.55"/><stop offset="0.15" stop-color="#3030e0" stop-opacity="0.8"/><stop offset="0.3" stop-color="#0000ff" stop-opacity="1"/><stop offset="0.42" stop-color="#0000ff" stop-opacity="1"/><stop offset="1" stop-color="#0000ff" stop-opacity="0.4"/></linearGradient>
<polygon points="1572.1,2177.2 1576.3,2166.9 1579.5,2156.6 1581.9,2146.3 1583.2,2136.0 1584.1,2125.7 1584.9,2115.4 1585.6,2105.1 1586.3,2094.8 1588.5,2053.6 1590.3,2012.4 1591.8,1971.2 1592.7,1930.0 1593.4,1888.8 1593.9,1847.6 1594.4,1806.4 1594.9,1765.2 1595.5,1724.1 1596.4,1682.9 1597.3,1641.7 1597.9,1600.5 1598.4,1559.3 1598.8,1518.1 1599.1,1476.9 1599.7,1435.7 1599.9,1428.8 1600.3,1422.0 1600.7,1415.1 1601.2,1408.2 1601.6,1401.4 1602.1,1394.5 1602.6,1387.6 1602.8,1380.8 1602.9,1373.9 1602.9,1367.0 1603.0,1360.2 1605.7,1353.3 1608.4,1353.3 1608.4,1360.2 1608.4,1367.0 1608.5,1373.9 1608.6,1380.8 1608.8,1387.6 1609.4,1394.5 1610.0,1401.4 1610.8,1408.2 1611.6,1415.1 1612.3,1422.0 1613.0,1428.8 1613.5,1435.7 1615.1,1476.9 1616.1,1518.1 1617.1,1559.3 1617.9,1600.5 1618.7,1641.7 1619.3,1682.9 1619.9,1724.1 1620.5,1765.2 1621.0,1806.4 1621.6,1847.6 1622.2,1888.8 1622.9,1930.0 1623.8,1971.2 1625.1,2012.4 1626.5,2053.6 1627.9,2094.8 1628.3,2105.1 1628.7,2115.4 1629.2,2125.7 1629.8,2136.0 1630.4,2146.3 1631.3,2156.6 1632.1,2166.9 1632.8,2177.2" fill="url(#tip2)"/>
<polygon points="1572.4,2177.2 1576.6,2167.3 1579.8,2157.3 1582.2,2147.4 1583.5,2137.5 1584.4,2127.5 1585.2,2117.6 1585.9,2107.7 1586.6,2097.7 1588.8,2058.0 1590.6,2018.2 1592.1,1978.5 1593.0,1938.8 1593.7,1899.0 1594.2,1859.3 1594.7,1819.5 1595.2,1779.8 1595.8,1740.1 1596.7,1700.3 1597.6,1660.6 1598.2,1620.8 1598.7,1581.1 1599.1,1541.4 1599.4,1501.6 1600.0,1461.9 1600.2,1455.3 1600.6,1448.6 1601.0,1442.0 1601.5,1435.4 1601.9,1428.8 1602.4,1422.1 1602.9,1415.5 1603.1,1408.9 1603.2,1402.3 1603.2,1395.6 1603.3,1389.0 1606.0,1382.4 1608.1,1382.4 1608.1,1389.0 1608.1,1395.6 1608.2,1402.3 1608.3,1408.9 1608.5,1415.5 1609.1,1422.1 1609.7,1428.8 1610.5,1435.4 1611.3,1442.0 1612.0,1448.6 1612.7,1455.3 1613.2,1461.9 1614.8,1501.6 1615.8,1541.4 1616.8,1581.1 1617.6,1620.8 1618.4,1660.6 1619.0,1700.3 1619.6,1740.1 1620.2,1779.8 1620.7,1819.5 1621.3,1859.3 1621.9,1899.0 1622.6,1938.8 1623.5,1978.5 1624.8,2018.2 1626.2,2058.0 1627.6,2097.7 1628.0,2107.7 1628.4,2117.6 1628.9,2127.5 1629.5,2137.5 1630.1,2147.4 1631.0,2157.3 1631.8,2167.3 1632.5,2177.2" fill="#ff0000"/>
<polygon points="1574.6,2177.2 1576.1,2174.4 1577.6,2171.7 1578.9,2168.9 1580.1,2166.2 1581.2,2163.4 1582.3,2160.7 1583.3,2157.9 1584.1,2155.2 1586.6,2144.2 1588.6,2133.1 1590.2,2122.1 1591.5,2111.1 1592.7,2100.1 1593.8,2089.1 1594.7,2078.1 1595.6,2067.1 1596.5,2056.0 1597.3,2045.0 1598.2,2034.0 1599.0,2023.0 1599.8,2012.0 1600.7,2001.0 1601.5,1989.9 1602.5,1978.9 1602.8,1977.1 1603.0,1975.3 1603.2,1973.4 1603.5,1971.6 1603.8,1969.8 1604.1,1967.9 1604.6,1966.1 1605.2,1964.2 1605.8,1962.4 1606.6,1960.6 1607.4,1958.7 1608.4,1956.9 1610.8,1956.9 1611.8,1958.7 1612.6,1960.6 1613.2,1962.4 1613.7,1964.2 1614.1,1966.1 1614.5,1967.9 1614.7,1969.8 1614.9,1971.6 1615.1,1973.4 1615.2,1975.3 1615.4,1977.1 1615.5,1978.9 1616.2,1989.9 1616.8,2001.0 1617.4,2012.0 1618.0,2023.0 1618.6,2034.0 1619.2,2045.0 1619.8,2056.0 1620.4,2067.1 1621.1,2078.1 1621.9,2089.1 1622.7,2100.1 1623.7,2111.1 1624.8,2122.1 1626.0,2133.1 1627.3,2144.2 1628.6,2155.2 1629.0,2157.9 1629.4,2160.7 1629.8,2163.4 1630.2,2166.2 1630.6,2168.9 1631.0,2171.7 1631.3,2174.4 1631.7,2177.2" fill="#008000"/>
<linearGradient id="tip3" gradientUnits="userSpaceOnUse" x1="0" y1="1356.0" x2="0" y2="1431.7"><stop offset="0" stop-color="#50509a" stop-opacity="0.55"/><stop offset="0.15" stop-color="#3030e0" stop-opacity="0.8"/><stop offset="0.3" stop-color="#0000ff" stop-opacity="1"/><stop offset="0.42" stop-color="#0000ff" stop-opacity="1"/><stop offset="1" stop-color="#0000ff" stop-opacity="0.4"/></linearGradient>
<polygon points="1702.1,2177.2 1706.3,2166.9 1709.5,2156.7 1711.9,2146.4 1713.2,2136.1 1714.1,2125.9 1714.9,2115.6 1715.6,2105.3 1716.3,2095.1 1718.5,2054.0 1720.3,2013.0 1721.8,1971.9 1722.7,1930.8 1723.4,1889.8 1723.9,1848.7 1724.4,1807.7 1724.9,1766.6 1725.5,1725.5 1726.4,1684.5 1727.3,1643.4 1727.9,1602.4 1728.4,1561.3 1728.8,1520.2 1729.1,1479.2 1729.7,1438.1 1729.9,1431.3 1730.3,1424.4 1730.7,1417.6 1731.2,1410.7 1731.6,1403.9 1732.1,1397.1 1732.6,1390.2 1732.8,1383.4 1732.9,1376.5 1732.9,1369.7 1733.0,1362.8 1735.7,1356.0 1738.4,1356.0 1738.4,1362.8 1738.4,1369.7 1738.5,1376.5 1738.6,1383.4 1738.8,1390.2 1739.4,1397.1 1740.0,1403.9 1740.8,1410.7 1741.6,1417.6 1742.3,1424.4 1743.0,1431.3 1743.5,1438.1 1745.1,1479.2 1746.1,1520.2 1747.1,1561.3 1747.9,1602.4 1748.7,1643.4 1749.3,1684.5 1749.9,1725.5 1750.5,1766.6 1751.0,1807.7 1751.6,1848.7 1752.2,1889.8 1752.9,1930.8 1753.8,1971.9 1755.1,2013.0 1756.5,2054.0 1757.9,2095.1 1758.3,2105.3 1758.7,2115.6 1759.2,2125.9 1759.8,2136.1 1760.4,2146.4 1761.3,2156.7 1762.1,2166.9 1762.8,2177.2" fill="url(#tip3)"/>
<polygon points="1702.4,2177.2 1706.6,2167.3 1709.8,2157.4 1712.2,2147.5 1713.5,2137.6 1714.4,2127.7 1715.2,2117.8 1715.9,2107.9 1716.6,2098.0 1718.8,2058.4 1720.6,2018.8 1722.1,1979.2 1723.0,1939.6 1723.7,1900.0 1724.2,1860.4 1724.7,1820.8 1725.2,1781.1 1725.8,1741.5 1726.7,1701.9 1727.6,1662.3 1728.2,1622.7 1728.7,1583.1 1729.1,1543.5 1729.4,1503.9 1730.0,1464.3 1730.2,1457.7 1730.6,1451.1 1731.0,1444.5 1731.5,1437.9 1731.9,1431.3 1732.4,1424.7 1732.9,1418.1 1733.1,1411.5 1733.2,1404.9 1733.2,1398.3 1733.3,1391.7 1736.0,1385.1 1738.1,1385.1 1738.1,1391.7 1738.1,1398.3 1738.2,1404.9 1738.3,1411.5 1738.5,1418.1 1739.1,1424.7 1739.7,1431.3 1740.5,1437.9 1741.3,1444.5 1742.0,1451.1 1742.7,1457.7 1743.2,1464.3 1744.8,1503.9 1745.8,1543.5 1746.8,1583.1 1747.6,1622.7 1748.4,1662.3 1749.0,1701.9 1749.6,1741.5 1750.2,1781.1 1750.7,1820.8 1751.3,1860.4 1751.9,1900.0 1752.6,1939.6 1753.5,1979.2 1754.8,2018.8 1756.2,2058.4 1757.6,2098.0 1758.0,2107.9 1758.4,2117.8 1758.9,2127.7 1759.5,2137.6 1760.1,2147.5 1761.0,2157.4 1761.8,2167.3 1762.5,2177.2" fill="#ff0000"/>
<polygon points="1704.2,2177.2 1705.7,2174.4 1707.2,2171.7 1708.5,2168.9 1709.7,2166.2 1710.8,2163.4 1711.9,2160.6 1712.9,2157.9 1713.7,2155.1 1716.2,2144.1 1718.2,2133.0 1719.8,2122.0 1721.1,2110.9 1722.3,2099.9 1723.4,2088.8 1724.3,2077.8 1725.2,2066.8 1726.1,2055.7 1726.9,2044.7 1727.8,2033.6 1728.6,2022.6 1729.4,2011.5 1730.3,2000.5 1731.1,1989.4 1732.1,1978.4 1732.4,1976.5 1732.6,1974.7 1732.8,1972.9 1733.1,1971.0 1733.4,1969.2 1733.7,1967.3 1734.2,1965.5 1734.8,1963.7 1735.4,1961.8 1736.2,1960.0 1737.0,1958.1 1738.0,1956.3 1740.4,1956.3 1741.4,1958.1 1742.2,1960.0 1742.8,1961.8 1743.3,1963.7 1743.7,1965.5 1744.1,1967.3 1744.3,1969.2 1744.5,1971.0 1744.7,1972.9 1744.8,1974.7 1745.0,1976.5 1745.1,1978.4 1745.8,1989.4 1746.4,2000.5 1747.0,2011.5 1747.6,2022.6 1748.2,2033.6 1748.8,2044.7 1749.4,2055.7 1750.0,2066.8 1750.7,2077.8 1751.5,2088.8 1752.3,2099.9 1753.3,2110.9 1754.4,2122.0 1755.6,2133.0 1756.9,2144.1 1758.2,2155.1 1758.6,2157.9 1759.0,2160.6 1759.4,2163.4 1759.8,2166.2 1760.2,2168.9 1760.6,2171.7 1760.9,2174.4 1761.3,2177.2" fill="#008000"/>
<linearGradient id="tip4" gradientUnits="userSpaceOnUse" x1="0" y1="1276.4" x2="0" y2="1352.1"><stop offset="0" stop-color="#50509a" stop-opacity="0.55"/><stop offset="0.15" stop-color="#3030e0" stop-opacity="0.8"/><stop offset="0.3" stop-color="#0000ff" stop-opacity="1"/><stop offset="0.42" stop-color="#0000ff" stop-opacity="1"/><stop offset="1" stop-color="#0000ff" stop-opacity="0.4"/></linearGradient>
<polygon points="1829.0,2177.2 1833.2,2165.9 1836.4,2154.7 1838.8,2143.4 1840.1,2132.2 1841.0,2120.9 1841.8,2109.6 1842.5,2098.4 1843.2,2087.1 1845.4,2042.1 1847.2,1997.0 1848.7,1952.0 1849.6,1907.0 1850.3,1861.9 1850.8,1816.9 1851.3,1771.8 1851.8,1726.8 1852.4,1681.8 1853.3,1636.7 1854.2,1591.7 1854.8,1546.6 1855.3,1501.6 1855.7,1456.6 1856.0,1411.5 1856.6,1366.5 1856.8,1359.0 1857.2,1351.5 1857.6,1344.0 1858.1,1336.5 1858.5,1328.9 1859.0,1321.4 1859.5,1313.9 1859.7,1306.4 1859.8,1298.9 1859.8,1291.4 1859.9,1283.9 1862.6,1276.4 1865.3,1276.4 1865.3,1283.9 1865.3,1291.4 1865.4,1298.9 1865.5,1306.4 1865.7,1313.9 1866.3,1321.4 1866.9,1328.9 1867.7,1336.5 1868.5,1344.0 1869.2,1351.5 1869.9,1359.0 1870.4,1366.5 1872.0,1411.5 1873.0,1456.6 1874.0,1501.6 1874.8,1546.6 1875.6,1591.7 1876.2,1636.7 1876.8,1681.8 1877.4,1726.8 1877.9,1771.8 1878.5,1816.9 1879.1,1861.9 1879.8,1907.0 1880.7,1952.0 1882.0,1997.0 1883.4,2042.1 1884.8,2087.1 1885.2,2098.4 1885.6,2109.6 1886.1,2120.9 1886.7,2132.2 1887.3,2143.4 1888.2,2154.7 1889.0,2165.9 1889.7,2177.2" fill="url(#tip4)"/>
<polygon points="1829.3,2177.2 1833.5,2166.3 1836.7,2155.4 1839.1,2144.5 1840.4,2133.6 1841.3,2122.7 1842.1,2111.8 1842.8,2100.9 1843.5,2090.0 1845.7,2046.4 1847.5,2002.9 1849.0,1959.3 1849.9,1915.7 1850.6,1872.1 1851.1,1828.5 1851.6,1784.9 1852.1,1741.3 1852.7,1697.8 1853.6,1654.2 1854.5,1610.6 1855.1,1567.0 1855.6,1523.4 1856.0,1479.8 1856.3,1436.3 1856.9,1392.7 1857.1,1385.4 1857.5,1378.1 1857.9,1370.9 1858.4,1363.6 1858.8,1356.3 1859.3,1349.1 1859.8,1341.8 1860.0,1334.6 1860.1,1327.3 1860.1,1320.0 1860.2,1312.8 1862.9,1305.5 1865.0,1305.5 1865.0,1312.8 1865.0,1320.0 1865.1,1327.3 1865.2,1334.6 1865.4,1341.8 1866.0,1349.1 1866.6,1356.3 1867.4,1363.6 1868.2,1370.9 1868.9,1378.1 1869.6,1385.4 1870.1,1392.7 1871.7,1436.3 1872.7,1479.8 1873.7,1523.4 1874.5,1567.0 1875.3,1610.6 1875.9,1654.2 1876.5,1697.8 1877.1,1741.3 1877.6,1784.9 1878.2,1828.5 1878.8,1872.1 1879.5,1915.7 1880.4,1959.3 1881.7,2002.9 1883.1,2046.4 1884.5,2090.0 1884.9,2100.9 1885.3,2111.8 1885.8,2122.7 1886.4,2133.6 1887.0,2144.5 1887.9,2155.4 1888.7,2166.3 1889.4,2177.2" fill="#ff0000"/>
<polygon points="1831.4,2177.2 1832.9,2174.3 1834.4,2171.4 1835.7,2168.5 1836.9,2165.6 1838.0,2162.7 1839.1,2159.8 1840.1,2156.9 1840.9,2154.0 1843.4,2142.3 1845.4,2130.7 1847.0,2119.1 1848.3,2107.5 1849.5,2095.9 1850.6,2084.2 1851.5,2072.6 1852.4,2061.0 1853.3,2049.4 1854.1,2037.8 1855.0,2026.1 1855.8,2014.5 1856.6,2002.9 1857.5,1991.3 1858.3,1979.7 1859.3,1968.0 1859.6,1966.1 1859.8,1964.2 1860.0,1962.2 1860.3,1960.3 1860.6,1958.4 1860.9,1956.4 1861.4,1954.5 1862.0,1952.5 1862.6,1950.6 1863.4,1948.7 1864.2,1946.7 1865.2,1944.8 1867.6,1944.8 1868.6,1946.7 1869.4,1948.7 1870.0,1950.6 1870.5,1952.5 1870.9,1954.5 1871.3,1956.4 1871.5,1958.4 1871.7,1960.3 1871.9,1962.2 1872.0,1964.2 1872.2,1966.1 1872.3,1968.0 1873.0,1979.7 1873.6,1991.3 1874.2,2002.9 1874.8,2014.5 1875.4,2026.1 1876.0,2037.8 1876.6,2049.4 1877.2,2061.0 1877.9,2072.6 1878.7,2084.2 1879.5,2095.9 1880.5,2107.5 1881.6,2119.1 1882.8,2130.7 1884.1,2142.3 1885.4,2154.0 1885.8,2156.9 1886.2,2159.8 1886.6,2162.7 1887.0,2165.6 1887.4,2168.5 1887.8,2171.4 1888.1,2174.3 1888.5,2177.2" fill="#008000"/>
<linearGradient id="tip5" gradientUnits="userSpaceOnUse" x1="0" y1="1663.6" x2="0" y2="1714.0"><stop offset="0" stop-color="#50509a" stop-opacity="0.55"/><stop offset="0.15" stop-color="#3030e0" stop-opacity="0.8"/><stop offset="0.3" stop-color="#0000ff" stop-opacity="1"/><stop offset="0.42" stop-color="#0000ff" stop-opacity="1"/><stop offset="1" stop-color="#0000ff" stop-opacity="0.4"/></linearGradient>
<polygon points="1959.6,2177.2 1963.4,2170.8 1966.6,2164.4 1968.9,2157.9 1970.9,2151.5 1972.6,2145.1 1974.0,2138.7 1975.1,2132.3 1976.0,2125.8 1978.4,2100.2 1980.4,2074.5 1981.9,2048.8 1983.0,2023.1 1983.9,1997.4 1984.8,1971.8 1985.9,1946.1 1986.9,1920.4 1987.5,1894.7 1988.1,1869.0 1988.9,1843.4 1989.6,1817.7 1990.2,1792.0 1991.1,1766.3 1992.4,1740.6 1993.8,1715.0 1994.0,1710.7 1994.3,1706.4 1994.5,1702.1 1994.8,1697.8 1995.2,1693.6 1995.7,1689.3 1996.2,1685.0 1996.3,1680.7 1996.3,1676.4 1996.3,1672.2 1996.5,1667.9 1999.0,1663.6 2001.6,1663.6 2001.6,1667.9 2001.6,1672.2 2001.7,1676.4 2001.7,1680.7 2001.8,1685.0 2002.0,1689.3 2002.3,1693.6 2002.5,1697.8 2002.7,1702.1 2002.8,1706.4 2003.0,1710.7 2003.1,1715.0 2004.0,1740.6 2004.8,1766.3 2005.5,1792.0 2006.1,1817.7 2006.7,1843.4 2007.2,1869.0 2007.6,1894.7 2007.9,1920.4 2008.4,1946.1 2008.9,1971.8 2009.6,1997.4 2010.5,2023.1 2011.4,2048.8 2012.6,2074.5 2013.7,2100.2 2014.8,2125.8 2015.1,2132.3 2015.4,2138.7 2015.7,2145.1 2016.1,2151.5 2016.5,2157.9 2017.0,2164.4 2017.6,2170.8 2018.4,2177.2" fill="url(#tip5)"/>
<polygon points="1959.9,2177.2 1963.7,2171.0 1966.9,2164.8 1969.2,2158.7 1971.2,2152.5 1972.9,2146.3 1974.3,2140.1 1975.4,2134.0 1976.3,2127.8 1978.7,2103.1 1980.7,2078.4 1982.2,2053.6 1983.3,2028.9 1984.2,2004.2 1985.1,1979.5 1986.2,1954.8 1987.2,1930.1 1987.8,1905.4 1988.4,1880.7 1989.2,1856.0 1989.9,1831.3 1990.5,1806.5 1991.4,1781.8 1992.7,1757.1 1994.1,1732.4 1994.3,1728.3 1994.6,1724.2 1994.8,1720.1 1995.1,1715.9 1995.5,1711.8 1996.0,1707.7 1996.5,1703.6 1996.6,1699.5 1996.6,1695.4 1996.6,1691.2 1996.8,1687.1 1999.3,1683.0 2001.3,1683.0 2001.3,1687.1 2001.3,1691.2 2001.4,1695.4 2001.4,1699.5 2001.5,1703.6 2001.7,1707.7 2002.0,1711.8 2002.2,1715.9 2002.4,1720.1 2002.5,1724.2 2002.7,1728.3 2002.8,1732.4 2003.7,1757.1 2004.5,1781.8 2005.2,1806.5 2005.8,1831.3 2006.4,1856.0 2006.9,1880.7 2007.3,1905.4 2007.6,1930.1 2008.1,1954.8 2008.6,1979.5 2009.3,2004.2 2010.2,2028.9 2011.1,2053.6 2012.3,2078.4 2013.4,2103.1 2014.5,2127.8 2014.8,2134.0 2015.1,2140.1 2015.4,2146.3 2015.8,2152.5 2016.2,2158.7 2016.7,2164.8 2017.3,2171.0 2018.1,2177.2" fill="#ff0000"/>
<polygon points="1965.1,2177.2 1966.4,2175.2 1967.8,2173.2 1969.1,2171.2 1970.3,2169.2 1971.4,2167.2 1972.5,2165.3 1973.4,2163.3 1974.2,2161.3 1977.2,2153.3 1979.8,2145.4 1981.8,2137.4 1983.4,2129.4 1984.5,2121.5 1985.4,2113.5 1986.3,2105.6 1987.3,2097.6 1988.4,2089.6 1989.5,2081.7 1990.5,2073.7 1991.4,2065.8 1992.2,2057.8 1992.9,2049.8 1993.5,2041.9 1994.2,2033.9 1994.3,2032.6 1994.5,2031.3 1994.7,2029.9 1994.9,2028.6 1995.2,2027.3 1995.5,2026.0 1995.7,2024.6 1996.1,2023.3 1996.4,2022.0 1996.8,2020.7 1997.3,2019.3 1997.8,2018.0 1999.8,2018.0 2000.4,2019.3 2000.9,2020.7 2001.4,2022.0 2001.8,2023.3 2002.1,2024.6 2002.4,2026.0 2002.7,2027.3 2003.0,2028.6 2003.2,2029.9 2003.5,2031.3 2003.7,2032.6 2003.8,2033.9 2004.7,2041.9 2005.5,2049.8 2006.3,2057.8 2007.1,2065.8 2007.8,2073.7 2008.4,2081.7 2009.0,2089.6 2009.6,2097.6 2010.3,2105.6 2011.1,2113.5 2011.9,2121.5 2012.7,2129.4 2013.5,2137.4 2014.3,2145.4 2015.1,2153.3 2016.0,2161.3 2016.2,2163.3 2016.4,2165.3 2016.7,2167.2 2017.0,2169.2 2017.2,2171.2 2017.5,2173.2 2017.8,2175.2 2018.1,2177.2" fill="#008000"/>
<linearGradient id="tip6" gradientUnits="userSpaceOnUse" x1="0" y1="1843.0" x2="0" y2="1870.0"><stop offset="0" stop-color="#50509a" stop-opacity="0.55"/><stop offset="0.15" stop-color="#3030e0" stop-opacity="0.8"/><stop offset="0.3" stop-color="#0000ff" stop-opacity="1"/><stop offset="0.42" stop-color="#0000ff" stop-opacity="1"/><stop offset="1" stop-color="#0000ff" stop-opacity="0.4"/></linearGradient>
<polygon points="2089.0,2177.2 2092.4,2173.0 2095.5,2168.8 2098.1,2164.7 2100.1,2160.5 2101.8,2156.3 2103.3,2152.1 2104.7,2148.0 2105.9,2143.8 2109.2,2127.1 2110.9,2110.4 2112.1,2093.6 2113.2,2076.9 2114.1,2060.2 2115.0,2043.5 2116.0,2026.8 2116.9,2010.1 2117.8,1993.4 2118.7,1976.7 2119.6,1960.0 2120.5,1943.3 2121.4,1926.5 2122.4,1909.8 2123.5,1893.1 2124.6,1876.4 2124.8,1873.6 2125.0,1870.8 2125.2,1868.1 2125.4,1865.3 2125.6,1862.5 2125.8,1859.7 2125.9,1856.9 2126.0,1854.1 2126.1,1851.4 2126.1,1848.6 2126.3,1845.8 2128.8,1843.0 2131.4,1843.0 2131.4,1845.8 2131.5,1848.6 2131.5,1851.4 2131.6,1854.1 2131.7,1856.9 2131.8,1859.7 2131.9,1862.5 2132.1,1865.3 2132.3,1868.1 2132.5,1870.8 2132.7,1873.6 2132.9,1876.4 2134.1,1893.1 2135.3,1909.8 2136.1,1926.5 2136.6,1943.3 2137.1,1960.0 2137.7,1976.7 2138.4,1993.4 2139.1,2010.1 2139.9,2026.8 2140.5,2043.5 2141.1,2060.2 2141.6,2076.9 2142.1,2093.6 2142.8,2110.4 2143.7,2127.1 2144.6,2143.8 2144.8,2148.0 2145.0,2152.1 2145.3,2156.3 2145.6,2160.5 2145.9,2164.7 2146.2,2168.8 2146.6,2173.0 2147.0,2177.2" fill="url(#tip6)"/>
<polygon points="2089.3,2177.2 2092.7,2173.2 2095.8,2169.1 2098.4,2165.1 2100.4,2161.0 2102.1,2157.0 2103.6,2152.9 2105.0,2148.9 2106.2,2144.8 2109.5,2128.6 2111.2,2112.4 2112.4,2096.2 2113.5,2080.1 2114.4,2063.9 2115.3,2047.7 2116.3,2031.5 2117.2,2015.3 2118.1,1999.1 2119.0,1982.9 2119.9,1966.7 2120.8,1950.5 2121.7,1934.3 2122.7,1918.2 2123.8,1902.0 2124.9,1885.8 2125.1,1883.1 2125.3,1880.4 2125.5,1877.7 2125.7,1875.0 2125.9,1872.3 2126.1,1869.6 2126.2,1866.9 2126.3,1864.2 2126.4,1861.5 2126.4,1858.8 2126.6,1856.1 2129.1,1853.4 2131.1,1853.4 2131.1,1856.1 2131.2,1858.8 2131.2,1861.5 2131.3,1864.2 2131.4,1866.9 2131.5,1869.6 2131.6,1872.3 2131.8,1875.0 2132.0,1877.7 2132.2,1880.4 2132.4,1883.1 2132.6,1885.8 2133.8,1902.0 2135.0,1918.2 2135.8,1934.3 2136.3,1950.5 2136.8,1966.7 2137.4,1982.9 2138.1,1999.1 2138.8,2015.3 2139.6,2031.5 2140.2,2047.7 2140.8,2063.9 2141.3,2080.1 2141.8,2096.2 2142.5,2112.4 2143.4,2128.6 2144.3,2144.8 2144.5,2148.9 2144.7,2152.9 2145.0,2157.0 2145.3,2161.0 2145.6,2165.1 2145.9,2169.1 2146.3,2173.2 2146.7,2177.2" fill="#ff0000"/>
<polygon points="2094.5,2177.2 2095.8,2175.8 2097.0,2174.5 2098.3,2173.1 2099.5,2171.8 2100.6,2170.4 2101.8,2169.1 2102.8,2167.7 2103.8,2166.4 2107.0,2161.0 2109.4,2155.6 2111.6,2150.1 2113.4,2144.7 2115.1,2139.3 2116.5,2133.9 2117.8,2128.5 2118.9,2123.1 2120.0,2117.7 2121.0,2112.3 2121.8,2106.9 2122.5,2101.5 2123.0,2096.1 2123.4,2090.6 2123.7,2085.2 2124.2,2079.8 2124.4,2078.9 2124.5,2078.0 2124.7,2077.1 2124.9,2076.2 2125.2,2075.3 2125.5,2074.4 2125.9,2073.5 2126.2,2072.6 2126.6,2071.7 2127.0,2070.8 2127.5,2069.9 2128.0,2069.0 2130.0,2069.0 2130.5,2069.9 2131.0,2070.8 2131.4,2071.7 2131.8,2072.6 2132.1,2073.5 2132.5,2074.4 2132.8,2075.3 2133.1,2076.2 2133.3,2077.1 2133.5,2078.0 2133.6,2078.9 2133.8,2079.8 2134.3,2085.2 2134.6,2090.6 2134.9,2096.1 2135.4,2101.5 2136.1,2106.9 2136.9,2112.3 2137.8,2117.7 2138.7,2123.1 2139.5,2128.5 2140.3,2133.9 2141.0,2139.3 2141.6,2144.7 2142.2,2150.1 2142.9,2155.6 2143.7,2161.0 2144.6,2166.4 2144.8,2167.7 2145.1,2169.1 2145.3,2170.4 2145.6,2171.8 2145.9,2173.1 2146.1,2174.5 2146.4,2175.8 2146.7,2177.2" fill="#008000"/>
<line x1="1426.0" y1="1231.5" x2="1426.0" y2="2177.2" stroke="#303030" stroke-width="2.4" stroke-dasharray="2.8 3.9"/>
<line x1="1555.4" y1="1231.5" x2="1555.4" y2="2177.2" stroke="#303030" stroke-width="2.4" stroke-dasharray="2.8 3.9"/>
<line x1="1682.5" y1="1231.5" x2="1682.5" y2="2177.2" stroke="#303030" stroke-width="2.4" stroke-dasharray="2.8 3.9"/>
<line x1="1812.4" y1="1231.5" x2="1812.4" y2="2177.2" stroke="#303030" stroke-width="2.4" stroke-dasharray="2.8 3.9"/>
<line x1="1942.0" y1="1231.5" x2="1942.0" y2="2177.2" stroke="#303030" stroke-width="2.4" stroke-dasharray="2.8 3.9"/>
<line x1="2068.7" y1="1231.5" x2="2068.7" y2="2177.2" stroke="#303030" stroke-width="2.4" stroke-dasharray="2.8 3.9"/>
<rect x="1295.8" y="1231.5" width="903.2" height="945.7" fill="none" stroke="#8a8a8a" stroke-width="3.2"/>
<text transform="translate(1281.7 2191.4) scale(0.935 1)" font-size="34.5" text-anchor="end">0.00</text>
<text transform="translate(1281.7 2062.2) scale(0.935 1)" font-size="34.5" text-anchor="end">0.25</text>
<text transform="translate(1281.7 1932.2) scale(0.935 1)" font-size="34.5" text-anchor="end">0.50</text>
<text transform="translate(1281.7 1802.4) scale(0.935 1)" font-size="34.5" text-anchor="end">0.75</text>
<text transform="translate(1281.7 1672.2) scale(0.935 1)" font-size="34.5" text-anchor="end">1.00</text>
<text transform="translate(1281.7 1541.7) scale(0.935 1)" font-size="34.5" text-anchor="end">1.25</text>
<text transform="translate(1281.7 1412.2) scale(0.935 1)" font-size="34.5" text-anchor="end">1.50</text>
<text transform="translate(1281.7 1282.2) scale(0.935 1)" font-size="34.5" text-anchor="end">1.75</text>
<text transform="translate(1358.5 2214.7) scale(0.955 1)" font-size="34.5" text-anchor="middle">Mon</text>
<text transform="translate(1491.4 2214.7) scale(0.885 1)" font-size="34.5" text-anchor="middle">Tue</text>
<text transform="translate(1615.7 2214.7) scale(0.905 1)" font-size="34.5" text-anchor="middle">Wed</text>
<text transform="translate(1747.3 2214.7) scale(0.885 1)" font-size="34.5" text-anchor="middle">Thu</text>
<text transform="translate(1874.2 2214.7) scale(0.95 1)" font-size="34.5" text-anchor="middle">Fri</text>
<text transform="translate(2003.0 2214.7) scale(0.875 1)" font-size="34.5" text-anchor="middle">Sat</text>
<text transform="translate(2133.5 2214.7) scale(0.9 1)" font-size="34.5" text-anchor="middle">Sun</text>
<text transform="translate(1746.1 1212.5) scale(0.95 1)" font-size="47.5" text-anchor="middle">(d)</text>
<text transform="translate(1744.4 2269.4) scale(0.955 1)" font-size="41" text-anchor="middle">Weekday</text>
<text transform="translate(1181.5 1707.1) rotate(-90) scale(0.975 1)" font-size="41" text-anchor="middle">Charging power [MW]</text>
</g>
<rect x="1226.5" y="2337.5" width="1041.5" height="59.5" rx="8" ry="8" fill="#ffffff" stroke="#d2d2d2" stroke-width="3"/>
<rect x="1238.0" y="2352.5" width="67" height="24" fill="#008000"/>
<text transform="translate(1331.0 2377.0) scale(0.967 1)" font-size="34.5" text-anchor="start">3.7 kW</text>
<rect x="1524.0" y="2352.5" width="67" height="24" fill="#ff0000"/>
<text transform="translate(1617.0 2377.0) scale(0.967 1)" font-size="34.5" text-anchor="start">11 kW</text>
<rect x="1790.0" y="2352.5" width="67" height="24" fill="#0000ff"/>
<text transform="translate(1884.0 2377.0) scale(0.967 1)" font-size="34.5" text-anchor="start">22 kW</text>
<rect x="2054.0" y="2352.5" width="67" height="24" fill="#000000"/>
<text transform="translate(2148.0 2377.0) scale(0.967 1)" font-size="34.5" text-anchor="start">50 kW</text>
</g>
</svg>
</body>
</html>
